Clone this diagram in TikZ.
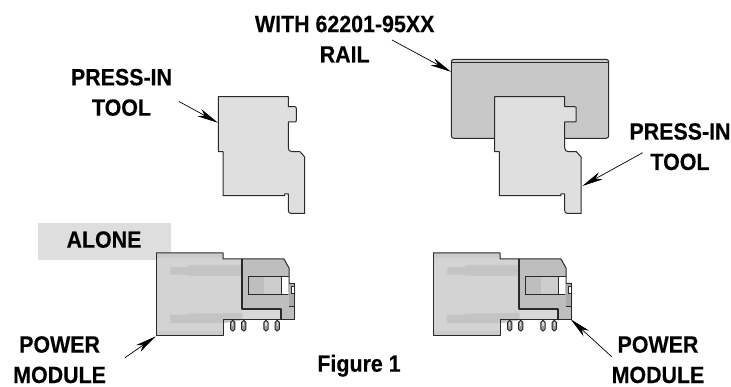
\documentclass[tikz,border=0pt]{standalone}
\usepackage{fontspec}
\setmainfont{Liberation Sans}[FakeStretch=0.91]
\newfontfamily\lblfont{Liberation Sans Bold}[FakeStretch=0.91,FakeBold=0.3]
\usetikzlibrary{arrows.meta}
\definecolor{toolfill}{HTML}{DFDFDF}
\definecolor{railfill}{HTML}{C8C8C8}
\definecolor{modlight}{HTML}{D3D3D3}
\definecolor{modband}{HTML}{CBCBCB}
\definecolor{moddark}{HTML}{BEBEBE}
\definecolor{ribfill}{HTML}{C4C4C4}
\definecolor{edge}{HTML}{2A2A2A}
\tikzset{
  lbl/.style={font=\lblfont\fontsize{23.5}{30.4}\selectfont,align=center,inner sep=0pt,text=black,anchor=base},
  lead/.style={draw=black,line width=0.7pt,-{Stealth[length=21pt,width=8pt,inset=6pt]},shorten >=0pt},
  part/.style={draw=edge,line width=1pt,line join=round},
  rib/.style={fill=ribfill,draw=black!22,line width=0.5pt},
  pin/.style={draw=black!85,fill=black!40,line width=0.9pt,rounded corners=1.9pt}
}
\newcommand{\toolshape}[3]{% shift, tab x, name
\begin{scope}[shift={(#1,0)}]
\draw[part,fill=toolfill] (218.3,96.7) -- (288.3,96.7) -- (288.3,106.7) -- (#2-1.5,106.7)
  .. controls (#2,106.7) and (#2,107.5) .. (#2,109) -- (#2,120)
  .. controls (#2,121.5) and (#2,122) .. (#2-1.5,122) -- (288.3,122) -- (288.3,148)
  .. controls (288.3,150) and (289.5,151.7) .. (292,151.7) -- (300,151.7) -- (304.7,157) -- (304.7,213.4) -- (291,213.4)
  .. controls (289.3,213.4) and (288.3,212.2) .. (288.3,210.5) -- (288.3,194) -- (284.5,194) -- (284.5,195.6) -- (223,195.6) -- (223,151.7) -- (218.3,151.7) -- cycle;
\end{scope}}
\newcommand{\modshape}[1]{%
\begin{scope}[shift={(#1,0)}]
\fill[moddark] (242,259) -- (284,259) -- (289,268) -- (289,320) -- (242,320) -- cycle;
\fill[modlight] (156,253) -- (223,253) -- (223,259) -- (242,259) -- (242,320) -- (223,320) -- (223,336) -- (156,336) -- cycle;
\fill[modband] (156,253) rectangle (223,258);
\fill[modband] (156,331) rectangle (223,336);
\fill[modlight!90!white] (242,309) -- (281,309) -- (281,320) -- (242,320) -- cycle;
\draw[rib] (170,267) -- (188,267) -- (188,265) -- (242,265) -- (242,275) -- (188,275) -- (188,274) -- (170,274) -- cycle;
\draw[rib] (170,315) -- (188,315) -- (188,314) -- (242,313) -- (242,320) -- (223,323) -- (188,323) -- (170,323) -- cycle;
\fill[moddark] (248.5,276) rectangle (264,294);
\fill[toolfill!92!black] (264,276) rectangle (281,294);
\fill[white] (281,276) rectangle (288.5,294);
\draw[edge,line width=0.9pt] (288.5,276) -- (248.5,276) -- (248.5,294) -- (288.5,294);
\draw[edge,line width=0.9pt] (281,276) -- (281,294);
\fill[moddark] (288,283) -- (295,283) -- (295,320) -- (289,320) -- cycle;
\draw[edge,line width=0.8pt,fill=moddark!90!black] (288.5,283) -- (294.7,283) -- (294.7,306) -- (288.5,306);
\draw[edge,line width=0.7pt,fill=white] (294.7,286) -- (291.5,286) -- (291.5,293) -- (294.7,293);
\draw[part] (156,253) -- (223,253) -- (223,259) -- (284,259) -- (289,268) -- (289,283);
\draw[part] (294.7,283) -- (294.7,320) -- (223,320) -- (223,336) -- (156,336) -- (156,253);
\draw[part,line width=1.3pt] (242,259) -- (242,309) -- (281,309) -- (281,320);
\foreach \px in {232.7,243.7,266,277.3}{
  \draw[pin] (\px-2.2,320.5) rectangle (\px+2.2,331);
  \fill[black!15] (\px-0.7,322.5) rectangle (\px+0.7,326);
}
\end{scope}}
\begin{document}
\begin{tikzpicture}[x=1pt,y=-1pt]
\useasboundingbox (0,0) rectangle (731,387);
% rail
\draw[part,fill=railfill,rounded corners=2.5pt] (451.3,59.3) rectangle (608.7,138.3);
\draw[edge,line width=0.8pt] (452,62.3) -- (608,62.3);
\toolshape{0}{296.3}{toolL}
\toolshape{276.4}{299.8}{toolR}
% alone band
\fill[black!13] (38,223.3) rectangle (171,260);
\modshape{0}
\modshape{277}
% labels
\node[lbl] (pressL) at (121.5,115.7) {PRESS-IN\\TOOL};
\node[lbl] (rail) at (344.7,62.5) {WITH 62201-95XX\\RAIL};
\node[lbl] (pressR) at (680,170) {PRESS-IN\\TOOL};
\node[lbl] (alone) at (104,247.7) {ALONE};
\node[lbl] (powerL) at (59.6,383) {POWER\\MODULE};
\node[lbl] (powerR) at (658,383) {POWER\\MODULE};
\node[lbl] (fig) at (359,371.7) {Figure 1};
% leader ends
\coordinate (a1s) at (179,101.5); \coordinate (a1e) at (218,122.8);
\coordinate (a2s) at (392,40);    \coordinate (a2e) at (451,71.8);
\coordinate (a3s) at (642.7,152.7); \coordinate (a3e) at (582.3,186);
\coordinate (a4s) at (125,357.7); \coordinate (a4e) at (155.6,336.4);
\coordinate (a5s) at (611.7,356.7); \coordinate (a5e) at (570.7,319.3);
\draw[lead] (a1s) -- (a1e);
\draw[lead] (a2s) -- (a2e);
\draw[lead] (a3s) -- (a3e);
\draw[lead] (a4s) -- (a4e);
\draw[lead] (a5s) -- (a5e);
\end{tikzpicture}
\end{document}
